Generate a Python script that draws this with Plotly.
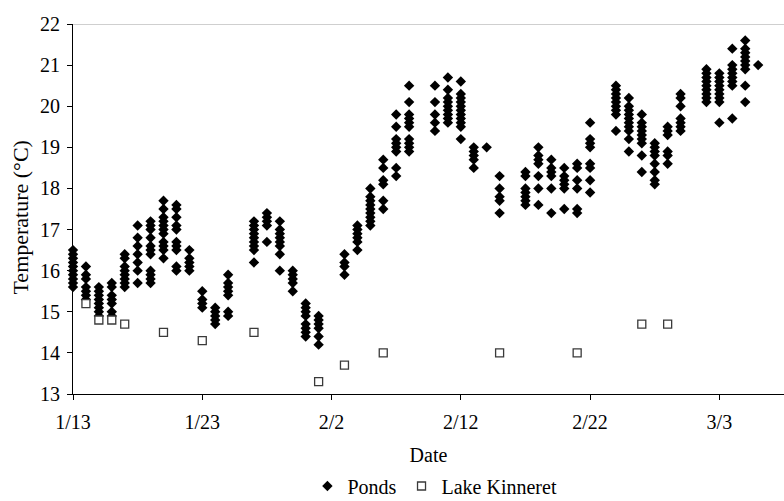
import plotly.graph_objects as go

# ---- Data ----
pond_dates = [
    "2008-01-13", "2008-01-14", "2008-01-15", "2008-01-16", "2008-01-17",
    "2008-01-18", "2008-01-19", "2008-01-20", "2008-01-21", "2008-01-22",
    "2008-01-23", "2008-01-24", "2008-01-25", "2008-01-27", "2008-01-28",
    "2008-01-29", "2008-01-30", "2008-01-31", "2008-02-01", "2008-02-03",
    "2008-02-04", "2008-02-05", "2008-02-06", "2008-02-07", "2008-02-08",
    "2008-02-10", "2008-02-11", "2008-02-12", "2008-02-13", "2008-02-14",
    "2008-02-15", "2008-02-17", "2008-02-18", "2008-02-19", "2008-02-20",
    "2008-02-21", "2008-02-22", "2008-02-24", "2008-02-25", "2008-02-26",
    "2008-02-27", "2008-02-28", "2008-02-29", "2008-03-02", "2008-03-03",
    "2008-03-04", "2008-03-05", "2008-03-06",
]
pond_temps = [
    [16.5, 16.4, 16.3, 16.2, 16.1, 16.0, 15.9, 15.8, 15.7, 15.6],
    [16.1, 15.9, 15.8, 15.6, 15.5, 15.4, 15.3],
    [15.6, 15.5, 15.4, 15.3, 15.2, 15.1, 15.0, 14.9],
    [15.7, 15.6, 15.4, 15.3, 15.2, 15.0, 14.9],
    [16.4, 16.3, 16.1, 16.0, 15.9, 15.8, 15.7, 15.6],
    [17.1, 16.8, 16.6, 16.4, 16.2, 16.0, 15.7],
    [17.2, 17.1, 17.0, 16.8, 16.6, 16.5, 16.4, 16.0, 15.9, 15.8, 15.7],
    [17.7, 17.5, 17.3, 17.2, 17.1, 17.0, 16.9, 16.7, 16.6, 16.5, 16.3],
    [17.6, 17.5, 17.3, 17.1, 17.0, 16.7, 16.6, 16.5, 16.1, 16.0],
    [16.5, 16.3, 16.2, 16.1, 16.0],
    [15.5, 15.3, 15.2, 15.1],
    [15.1, 15.0, 14.9, 14.8, 14.7],
    [15.9, 15.7, 15.6, 15.5, 15.4, 15.0, 14.9],
    [17.2, 17.1, 17.0, 16.9, 16.8, 16.7, 16.6, 16.5, 16.2],
    [17.4, 17.3, 17.2, 17.1, 16.7],
    [17.2, 17.0, 16.9, 16.8, 16.7, 16.6, 16.4, 16.0],
    [16.0, 15.9, 15.8, 15.7, 15.5],
    [15.2, 15.1, 15.0, 14.9, 14.7, 14.6, 14.5, 14.4],
    [14.9, 14.8, 14.7, 14.6, 14.4, 14.2],
    [16.4, 16.2, 16.1, 15.9],
    [17.1, 17.0, 16.9, 16.8, 16.7, 16.5],
    [18.0, 17.8, 17.7, 17.6, 17.5, 17.4, 17.3, 17.2, 17.1],
    [18.7, 18.5, 18.2, 18.1, 17.7, 17.5],
    [19.8, 19.5, 19.2, 19.1, 19.0, 18.9, 18.5, 18.3],
    [20.5, 20.1, 19.8, 19.7, 19.6, 19.5, 19.2, 19.1, 19.0, 18.9],
    [20.5, 20.1, 19.8, 19.6, 19.4],
    [20.7, 20.4, 20.2, 20.1, 20.0, 19.9, 19.8, 19.7, 19.6],
    [20.6, 20.3, 20.2, 20.1, 20.0, 19.9, 19.8, 19.7, 19.6, 19.5, 19.2],
    [19.0, 18.9, 18.8, 18.7, 18.5],
    [19.0],
    [18.3, 18.0, 17.8, 17.7, 17.4],
    [18.4, 18.3, 18.0, 17.9, 17.8, 17.7, 17.6],
    [19.0, 18.8, 18.7, 18.6, 18.3, 18.0, 17.6],
    [18.7, 18.5, 18.4, 18.3, 18.0, 17.4],
    [18.5, 18.3, 18.2, 18.1, 18.0, 17.5],
    [18.6, 18.5, 18.2, 18.0, 17.5, 17.4],
    [19.6, 19.2, 19.1, 19.0, 18.6, 18.5, 18.2, 17.9],
    [20.5, 20.4, 20.3, 20.2, 20.1, 20.0, 19.9, 19.8, 19.4],
    [20.2, 20.0, 19.9, 19.8, 19.7, 19.6, 19.5, 19.4, 19.2, 18.9],
    [19.8, 19.6, 19.5, 19.4, 19.3, 19.2, 19.1, 18.8, 18.4],
    [19.1, 19.0, 18.9, 18.8, 18.6, 18.4, 18.2, 18.1],
    [19.5, 19.4, 19.3, 18.9, 18.8, 18.6],
    [20.3, 20.2, 20.0, 19.7, 19.6, 19.5, 19.4],
    [20.9, 20.8, 20.7, 20.6, 20.5, 20.4, 20.3, 20.2, 20.1],
    [20.8, 20.7, 20.6, 20.5, 20.4, 20.3, 20.2, 20.1, 19.6],
    [21.4, 21.0, 20.9, 20.8, 20.7, 20.6, 20.5, 19.7],
    [21.6, 21.4, 21.3, 21.2, 21.1, 21.0, 20.9, 20.5, 20.1],
    [21.0],
]

kinneret_dates = [
    "2008-01-14", "2008-01-15", "2008-01-16", "2008-01-17", "2008-01-20",
    "2008-01-23", "2008-01-27", "2008-02-01", "2008-02-03", "2008-02-06",
    "2008-02-15", "2008-02-21", "2008-02-26", "2008-02-28",
]
kinneret_temps = [15.2, 14.8, 14.8, 14.7, 14.5, 14.3, 14.5, 13.3, 13.7, 14.0,
                  14.0, 14.0, 14.7, 14.7]

tick_dates = ["2008-01-13", "2008-01-23", "2008-02-02", "2008-02-12",
              "2008-02-22", "2008-03-03"]
tick_labels = ["1/13", "1/23", "2/2", "2/12", "2/22", "3/3"]
x_range = ["2008-01-13", "2008-03-08"]
y_range = [13, 22]

# flatten pond columns
px, py = [], []
for d, temps in zip(pond_dates, pond_temps):
    for t in temps:
        px.append(d)
        py.append(t)

FONT = "Liberation Serif"

fig = go.Figure()
fig.add_trace(go.Scatter(
    x=px, y=py, mode="markers", name="Ponds",
    marker=dict(symbol="diamond", size=8, color="black",
                line=dict(width=0)),
    cliponaxis=False,
))
fig.add_trace(go.Scatter(
    x=kinneret_dates, y=kinneret_temps, mode="markers", name="Lake Kinneret",
    marker=dict(symbol="square", size=8, color="white",
                line=dict(width=1.3, color="#3a3a3a")),
    cliponaxis=False,
))

fig.add_shape(type="line", xref="paper", yref="y", x0=0, x1=1, y0=22, y1=22,
              line=dict(color="#a0a0a0", width=1.2), layer="below")

# y-axis title placed as rotated text to match the reference position
fig.add_annotation(text="Temperature (°C)", xref="paper", yref="paper",
                   x=-0.0745, y=0.477, xanchor="center", yanchor="middle",
                   textangle=-90, showarrow=False,
                   font=dict(family=FONT, size=22, color="black"))

fig.update_layout(
    width=784, height=501,
    margin=dict(l=73, r=0, t=24, b=107, autoexpand=False),
    paper_bgcolor="white", plot_bgcolor="white",
    font=dict(family=FONT, size=20, color="black"),
    showlegend=True,
    legend=dict(orientation="h", x=0.509, xanchor="center", y=-0.196,
                yanchor="top", font=dict(family=FONT, size=20), itemwidth=30,
                tracegroupgap=0, bgcolor="rgba(0,0,0,0)"),
    xaxis=dict(
        type="date", range=x_range, tickvals=tick_dates, ticktext=tick_labels,
        showgrid=False, zeroline=False, showline=True, linecolor="black",
        linewidth=1.2, ticks="outside", ticklen=5, tickcolor="black",
        tickwidth=1, tickfont=dict(family=FONT, size=20), ticklabelstandoff=5,
        automargin=False,
        title=dict(text="Date", font=dict(family=FONT, size=20), standoff=15),
    ),
    yaxis=dict(
        range=y_range, dtick=1, showgrid=False, zeroline=False,
        showline=True, linecolor="black", linewidth=1.2, ticks="outside",
        ticklen=5, tickcolor="black", tickwidth=1, ticklabelstandoff=3,
        tickfont=dict(family=FONT, size=20), automargin=False,
    ),
)

fig.write_html("out.html",
               config={"displayModeBar": False},
               post_script="document.body.style.margin='0';"
                           "document.body.style.overflow='hidden';")
